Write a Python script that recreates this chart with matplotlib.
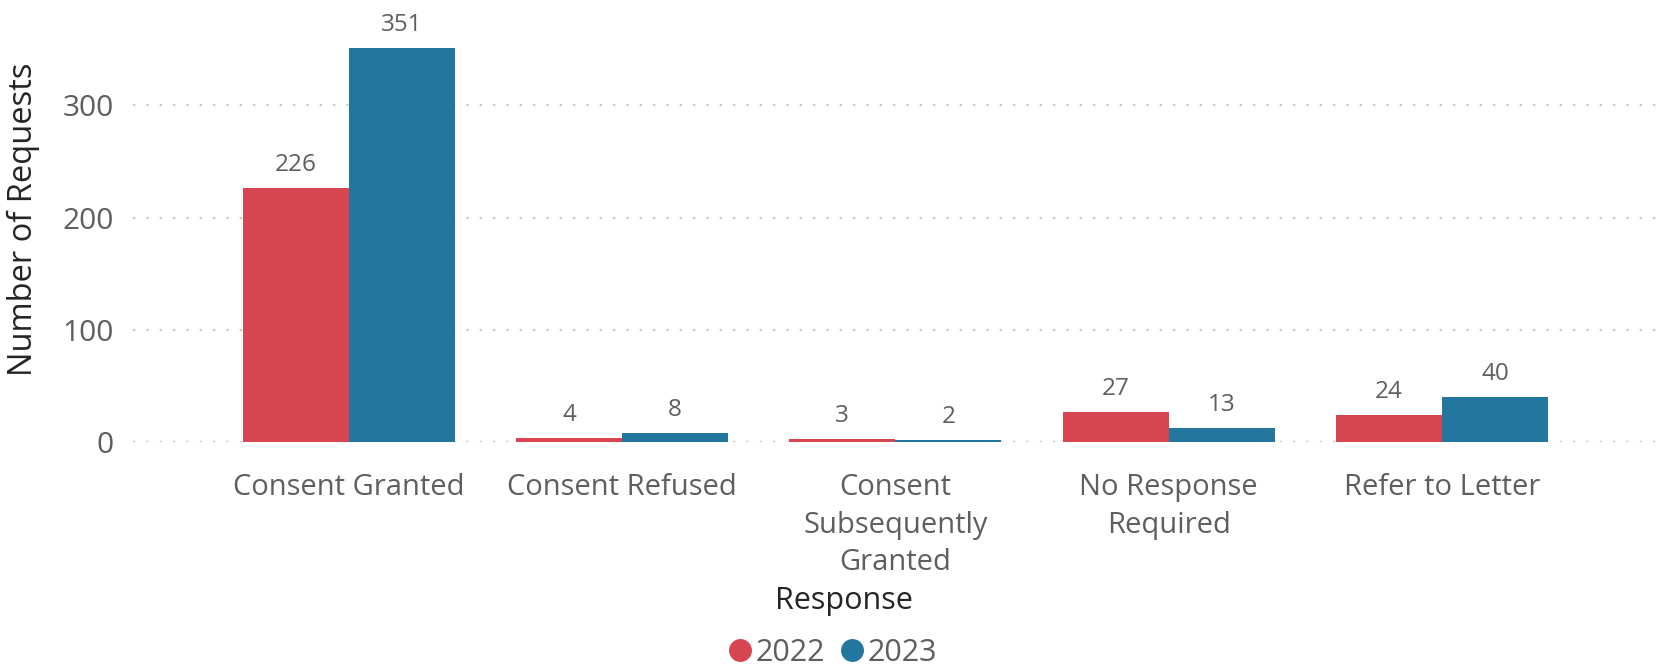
import matplotlib.pyplot as plt
import numpy as np
from matplotlib.lines import Line2D

plt.rcParams["font.family"] = ["Open Sans", "DejaVu Sans"]

categories = [
    "Consent Granted",
    "Consent Refused",
    "Consent\nSubsequently\nGranted",
    "No Response\nRequired",
    "Refer to Letter",
]
years = ["2022", "2023"]
counts_2022 = [226, 4, 3, 27, 24]
counts_2023 = [351, 8, 2, 13, 40]
yticks = [0, 100, 200, 300]

colors = {"2022": "#D64550", "2023": "#23779E"}
label_grey = "#605E5C"

fig = plt.figure(figsize=(16.72, 6.66), dpi=100)
ax = fig.add_axes([0.0795, 0.336, 0.912, 0.624])

x = np.arange(len(categories))
width = 0.388
for i, (year, vals) in enumerate(zip(years, [counts_2022, counts_2023])):
    offs = (i - 0.5) * width
    bars = ax.bar(x + offs, vals, width, color=colors[year], zorder=2)
    for b, v in zip(bars, vals):
        ax.annotate(str(v), (b.get_x() + b.get_width() / 2, v),
                    xytext=(0, 8), textcoords="offset points",
                    ha="center", va="bottom", fontsize=17.5, color=label_grey)

ax.set_xlim(-0.79, 4.79)
ax.set_ylim(0, 370)
ax.set_yticks(yticks)
ax.set_xticks(x)
ax.set_xticklabels(categories, fontsize=21, color=label_grey, linespacing=1.4)
ax.tick_params(axis="y", labelsize=21.5, labelcolor=label_grey, length=0, pad=14)
ax.tick_params(axis="x", length=0, pad=22)
ax.grid(axis="y", color="#c8c8c8", linestyle=(0, (1, 5)), linewidth=1.6, zorder=0)
for s in ax.spines.values():
    s.set_visible(False)

ax.set_ylabel("Number of Requests", fontsize=23.5, color="#252423")
ax.yaxis.set_label_coords(-0.061, 0.537)
fig.text(0.505, 0.097, "Response", ha="center", va="center", fontsize=22,
         color="#252423")

handles = [Line2D([], [], marker="o", linestyle="", markersize=15.5,
                  color=colors[y]) for y in years]
fig.legend(handles, years, loc="center", bbox_to_anchor=(0.497, 0.02),
           ncol=2, frameon=False, fontsize=22, labelcolor=label_grey,
           handletextpad=0.0, columnspacing=0.4, handlelength=1.0)

fig.savefig("out.png", dpi=100)
